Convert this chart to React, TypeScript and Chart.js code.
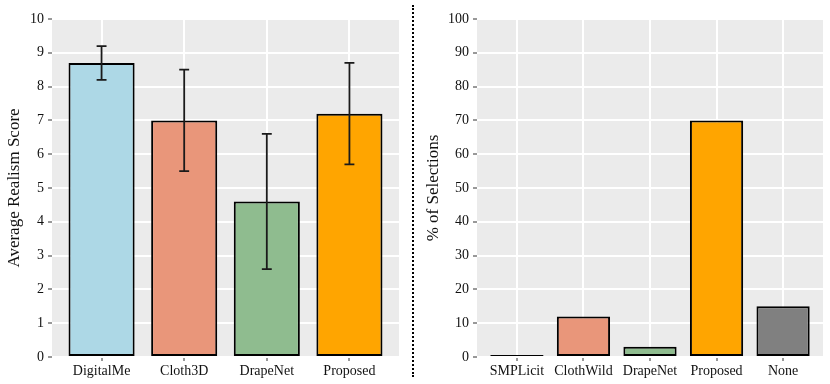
import React, { useEffect, useRef } from "react";
import { Chart, registerables } from "chart.js";

Chart.register(...registerables);

// ---- Data ----
const leftCategories = ["DigitalMe", "Cloth3D", "DrapeNet", "Proposed"];
const leftMeans = [8.7, 7.0, 4.6, 7.2];
const leftLower = [8.2, 5.5, 2.6, 5.7];
const leftUpper = [9.2, 8.5, 6.6, 8.7];
const leftColors = ["#ADD8E6", "#E9967A", "#8FBC8F", "#FFA500"];
const leftYTicks = [0, 1, 2, 3, 4, 5, 6, 7, 8, 9, 10];
const leftYTitle = "Average Realism Score";

const rightCategories = ["SMPLicit", "ClothWild", "DrapeNet", "Proposed", "None"];
const rightValues = [0, 12, 3, 70, 15];
const rightColors = ["#ADD8E6", "#E9967A", "#8FBC8F", "#FFA500", "#808080"];
const rightYTicks = [0, 10, 20, 30, 40, 50, 60, 70, 80, 90, 100];
const rightYTitle = "% of Selections";

const FONT = "'Liberation Serif', 'DejaVu Serif', serif";

const panelBg = {
  id: "panelBg",
  beforeDraw(chart: any) {
    const { ctx, chartArea } = chart;
    ctx.save();
    ctx.fillStyle = "#EBEBEB";
    ctx.fillRect(chartArea.left, chartArea.top, chartArea.right - chartArea.left, chartArea.bottom - chartArea.top);
    ctx.restore();
  },
};

const errorBars = {
  id: "errorBars",
  afterDatasetsDraw(chart: any, _args: any, opts: any) {
    if (!opts || !opts.lower) return;
    const { ctx } = chart;
    const x = chart.scales.x;
    const y = chart.scales.y;
    ctx.save();
    ctx.strokeStyle = "#1a1a1a";
    ctx.lineWidth = 1.8;
    opts.lower.forEach((lo: number, i: number) => {
      const hi = opts.upper[i];
      const cx = x.getPixelForValue(i + 1);
      const half = x.getPixelForValue(i + 1 + 0.06) - cx;
      const yl = y.getPixelForValue(lo);
      const yh = y.getPixelForValue(hi);
      ctx.beginPath();
      ctx.moveTo(cx, yl);
      ctx.lineTo(cx, yh);
      ctx.moveTo(cx - half, yl);
      ctx.lineTo(cx + half, yl);
      ctx.moveTo(cx - half, yh);
      ctx.lineTo(cx + half, yh);
      ctx.stroke();
    });
    ctx.restore();
  },
};

function makeConfig(
  cats: string[],
  values: number[],
  colors: string[],
  yTicks: number[],
  title: string,
  axisWidth: number,
  titlePad: number,
  rightPad: number,
  err: any
): any {
  const yMax = yTicks[yTicks.length - 1];
  return {
    type: "bar",
    data: {
      datasets: [
        {
          data: values.map((v, i) => ({ x: i + 1, y: v })),
          backgroundColor: colors,
          borderColor: "#000000",
          borderWidth: 2,
          borderSkipped: false,
          barPercentage: 0.8,
          categoryPercentage: 1,
          minBarLength: 2,
        },
      ],
    },
    options: {
      responsive: false,
      animation: false,
      layout: { padding: { top: 19, right: rightPad, left: 0, bottom: 0 } },
      plugins: {
        legend: { display: false },
        tooltip: { enabled: false },
        errorBars: err,
      },
      scales: {
        x: {
          type: "linear",
          offset: false,
          min: 0.4,
          max: cats.length + 0.6,
          afterBuildTicks: (axis: any) => {
            axis.ticks = cats.map((_, i) => ({ value: i + 1 }));
          },
          afterFit: (axis: any) => {
            axis.height = 27;
          },
          ticks: {
            callback: (v: any) => cats[Math.round(v) - 1] ?? "",
            font: { family: FONT, size: 14 },
            color: "#111",
            padding: 2,
            maxRotation: 0,
            autoSkip: false,
          },
          grid: {
            offset: false,
            color: "#FFFFFF",
            lineWidth: 2,
            tickColor: "#333",
            tickWidth: 1,
            tickLength: 4,
          },
          border: { display: false },
        },
        y: {
          min: 0,
          max: yMax,
          afterBuildTicks: (axis: any) => {
            axis.ticks = yTicks.map((v) => ({ value: v }));
          },
          afterFit: (axis: any) => {
            axis.width = axisWidth;
          },
          ticks: {
            font: { family: FONT, size: 14 },
            color: "#111",
            padding: 4,
          },
          grid: {
            color: "#FFFFFF",
            lineWidth: 2,
            tickColor: "#333",
            tickWidth: 1,
            tickLength: 4,
          },
          border: { display: false },
          title: {
            display: true,
            text: title,
            font: { family: FONT, size: 17 },
            color: "#111",
            padding: { top: titlePad, bottom: 0 },
          },
        },
      },
    },
    plugins: [panelBg, errorBars],
  };
}

function Panel(props: { config: any; width: number; left: number }) {
  const ref = useRef<HTMLCanvasElement | null>(null);
  useEffect(() => {
    if (!ref.current) return;
    const chart = new Chart(ref.current, props.config);
    return () => chart.destroy();
  }, []);
  return (
    <div style={{ position: "absolute", left: props.left, top: 0, width: props.width, height: 384 }}>
      <canvas ref={ref} width={props.width} height={384} style={{ display: "block" }} />
    </div>
  );
}

export default function App() {
  const leftConfig = makeConfig(
    leftCategories,
    leftMeans,
    leftColors,
    leftYTicks,
    leftYTitle,
    52,
    4,
    11,
    { lower: leftLower, upper: leftUpper }
  );
  const rightConfig = makeConfig(
    rightCategories,
    rightValues,
    rightColors,
    rightYTicks,
    rightYTitle,
    61,
    7,
    7,
    null
  );
  return (
    <div style={{ position: "fixed", left: 0, top: 0, width: 830, height: 384, background: "#fff" }}>
      <Panel config={leftConfig} width={410} left={0} />
      <div
        style={{
          position: "absolute",
          left: 412,
          top: 5,
          width: 0,
          height: 372,
          borderLeft: "2px dotted #000",
        }}
      />
      <Panel config={rightConfig} width={414} left={416} />
    </div>
  );
}
